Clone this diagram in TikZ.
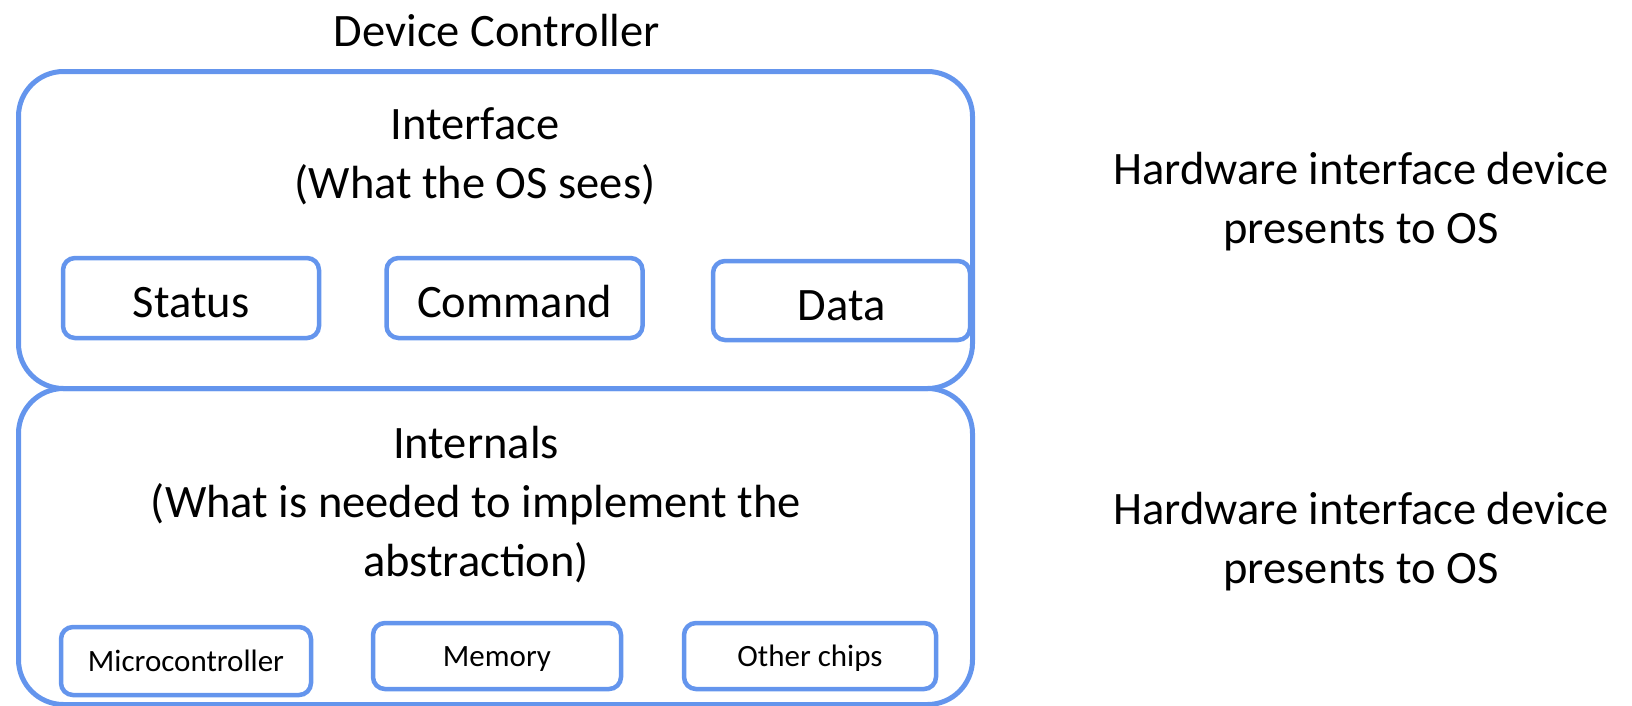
\documentclass[tikz,border=0pt]{standalone}
\usepackage{fontspec}
\setmainfont{Carlito}
\definecolor{frameblue}{RGB}{100,149,237}
\tikzset{
  layer/.style={draw=frameblue, line width=5pt, rounded corners=45pt,
    anchor=north west, inner sep=0pt},
  regbox/.style={draw=frameblue, line width=4.5pt, rounded corners=12pt,
    inner sep=0pt, minimum width=256pt, minimum height=80pt,
    text height=39pt, text depth=0pt,
    font=\fontsize{46.5}{59}\selectfont},
  partbox/.style={draw=frameblue, line width=4.5pt, rounded corners=12pt,
    inner sep=0pt, minimum width=250pt, minimum height=66pt,
    text height=20pt, text depth=0pt,
    font=\fontsize{31}{36}\selectfont},
  bigtext/.style={align=center, inner sep=0pt, anchor=base,
    font=\fontsize{46.5}{59}\selectfont},
}
\begin{document}
\begin{tikzpicture}[x=1pt, y=-1pt]
  \useasboundingbox (0,0) rectangle (1632,705);

  % title
  \node[bigtext] (title) at (497,46) {Device Controller};

  % the two layers of the controller
  \node[layer, minimum width=954pt, minimum height=317pt] (iface) at (16,69) {};
  \node[layer, minimum width=954pt, minimum height=316pt] (intern) at (16,386) {};

  % interface layer (base anchor sits on the last line)
  \node[bigtext] (ifacelbl) at (475,198) {Interface\\(What the OS sees)};
  \node[regbox] (status) at (191,298) {Status};
  \node[regbox] (command) at (514.5,298) {Command};
  \node[regbox, minimum width=257pt, minimum height=79pt] (data) at (841.5,300.5) {Data};

  % internals layer
  \node[bigtext] (internlbl) at (476,576)
    {Internals\\(What is needed to implement the\\abstraction)};
  \node[partbox, minimum height=68pt] (micro) at (186,661) {Microcontroller};
  \node[partbox, minimum width=248pt] (memory) at (497,656) {Memory};
  \node[partbox, minimum width=252pt] (other) at (810,656) {Other chips};

  % side notes
  \node[bigtext] (note1) at (1361,243) {Hardware interface device\\presents to OS};
  \node[bigtext] (note2) at (1361,583) {Hardware interface device\\presents to OS};
\end{tikzpicture}
\end{document}
